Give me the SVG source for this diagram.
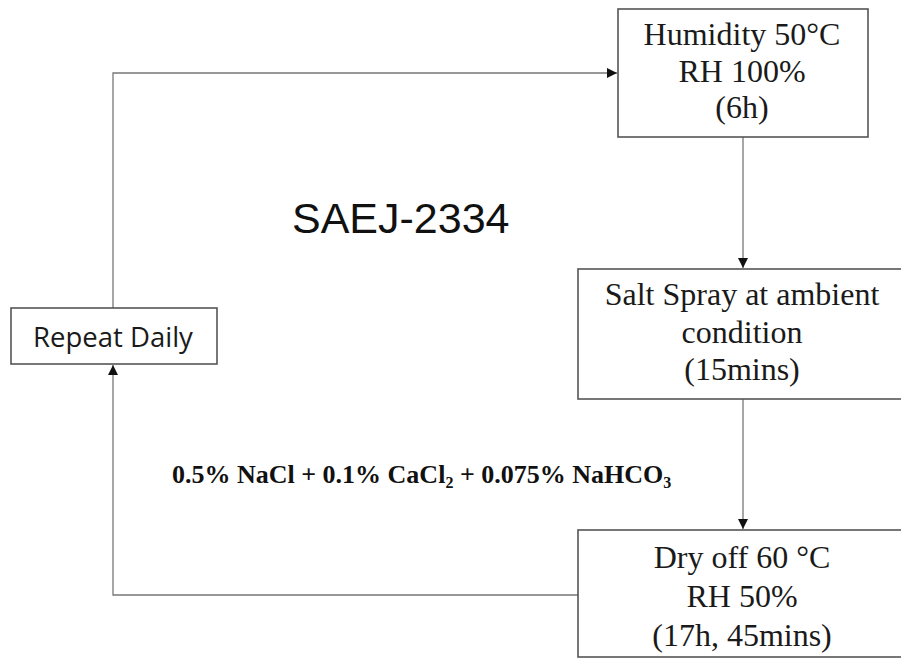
<svg xmlns="http://www.w3.org/2000/svg" width="901" height="660" viewBox="0 0 901 660">
<defs>
<style>
.box{fill:#fff;stroke:#555;stroke-width:1.6}
.conn{fill:none;stroke:#777;stroke-width:1.3}
.t{font-family:"Liberation Serif","Times New Roman",serif;font-size:32px;fill:#1a1a1a;text-anchor:middle}
.s{font-family:"Open Sans","Liberation Sans",sans-serif;font-size:27.5px;fill:#1a1a1a;text-anchor:middle}
.title{font-family:"Liberation Sans",Arial,sans-serif;font-size:43px;fill:#111}
.f{font-family:"Liberation Serif","Times New Roman",serif;font-size:26px;font-weight:bold;fill:#111}
</style>
<marker id="ah" viewBox="0 0 10 10" refX="10" refY="5" markerWidth="10" markerHeight="10" markerUnits="userSpaceOnUse" orient="auto">
<path d="M0,0 L10,5 L0,10 z" fill="#111"/>
</marker>
</defs>
<rect width="901" height="660" fill="#fff"/>
<g id="connectors">
<polyline class="conn" points="113,308 113,73 617,73" marker-end="url(#ah)"/>
<line class="conn" x1="743" y1="137" x2="743" y2="268" marker-end="url(#ah)"/>
<line class="conn" x1="743" y1="399" x2="743" y2="529" marker-end="url(#ah)"/>
<polyline class="conn" points="578,595 113,595 113,365" marker-end="url(#ah)"/>
</g>
<g id="humidity">
<rect class="box" x="618" y="9" width="250" height="128"/>
<text class="t" x="742" y="45">Humidity 50°C</text>
<text class="t" x="742" y="82">RH 100%</text>
<text class="t" x="742" y="118">(6h)</text>
</g>
<g id="saltspray">
<rect class="box" x="578" y="269" width="335" height="130"/>
<text class="t" x="742" y="305">Salt Spray at ambient</text>
<text class="t" x="742" y="343">condition</text>
<text class="t" x="742" y="380">(15mins)</text>
</g>
<g id="dryoff">
<rect class="box" x="578" y="530" width="335" height="127"/>
<text class="t" x="742" y="568">Dry off 60 °C</text>
<text class="t" x="742" y="607">RH 50%</text>
<text class="t" x="742" y="646">(17h, 45mins)</text>
</g>
<g id="repeat">
<rect class="box" x="11" y="308" width="206" height="56"/>
<text class="s" x="113" y="347">Repeat Daily</text>
</g>
<g id="title">
<text class="title" x="292" y="233">SAEJ-2334</text>
</g>
<g id="formula">
<text class="f" x="172" y="483">0.5% NaCl + 0.1% CaCl<tspan font-size="16" dy="5">2</tspan><tspan dy="-5"> + 0.075% NaHCO</tspan><tspan font-size="16" dy="5">3</tspan></text>
</g>
</svg>
